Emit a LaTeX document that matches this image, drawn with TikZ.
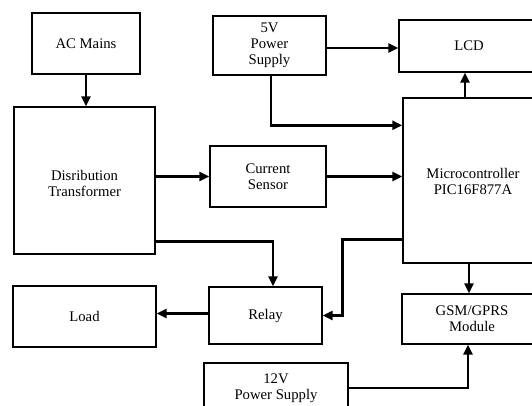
\documentclass[tikz,border=0pt]{standalone}
\usepackage{fontspec}
\setmainfont{Liberation Serif}
\usetikzlibrary{arrows.meta,calc}
\begin{document}
\begin{tikzpicture}[x=1pt,y=-1pt,
  blk/.style={draw,line width=1.4pt,inner sep=0pt,align=center,font=\fontsize{14.7}{16}\selectfont},
  conn/.style={line width=2.6pt,-{Triangle[length=10pt,width=9pt]}}]
\useasboundingbox (0,0) rectangle (532,406);
\clip (0,0) rectangle (532,406);
\node[blk,minimum width=108pt,minimum height=61pt] (ac) at (86,43.5) {AC Mains};
\node[blk,minimum width=141pt,minimum height=147pt] (dt) at (84.5,180.5) {\raisebox{-8pt}[0pt][0pt]{\begin{tabular}{@{}c@{}}Disribution\\Transformer\end{tabular}}};
\node[blk,minimum width=113pt,minimum height=59pt] (ps5) at (269.5,45.5) {5V\\Power\\Supply};
\node[blk,minimum width=140pt,minimum height=52pt] (lcd) at (469,46) {LCD};
\node[blk,minimum width=140pt,minimum height=165pt] (mc) at (473,180.5) {\raisebox{-6.5pt}[0pt][0pt]{\begin{tabular}{@{}c@{}}Microcontroller\\PIC16F877A\end{tabular}}};
\node[blk,minimum width=116pt,minimum height=61pt] (cs) at (268,176.5) {Current\\Sensor};
\node[blk,minimum width=113pt,minimum height=57pt] (relay) at (265.5,315.5) {Relay};
\node[blk,minimum width=143pt,minimum height=61pt] (load) at (84.5,316.5) {Load};
\node[blk,minimum width=140pt,minimum height=50pt] (gsm) at (472,319) {GSM/GPRS\\Module};
\node[blk,minimum width=144pt,minimum height=50pt] (ps12) at (276,388) {12V\\Power Supply};
\draw[conn] (ac.south) -- (ac.south |- dt.north);
\draw[conn] (dt.east |- cs.west) -- (cs.west);
\draw[conn] ([yshift=-2.5pt]ps5.east) -- ([yshift=-2.5pt]ps5.east -| lcd.west);
\draw[conn] ([xshift=1.5pt]ps5.south) |- ($(mc.north west)+(0,28)$);
\draw[conn] (cs.east) -- (cs.east -| mc.west);
\draw[conn] ([xshift=-4pt]lcd.south |- mc.north) -- ([xshift=-4pt]lcd.south);
\draw[conn] ($(dt.south east)+(0,-13)$) -| ([xshift=7.5pt]relay.north);
\draw[conn] ($(mc.south west)+(0,-24)$) -- ++(-60,0) |- (relay.east);
\draw[conn] ([yshift=2pt]relay.west) -- ([yshift=2pt]relay.west -| load.east);
\draw[conn] ([xshift=-3pt]gsm.north |- mc.south) -- ([xshift=-3pt]gsm.north);
\draw[conn] (ps12.east) -| ([xshift=-4pt]gsm.south);
\end{tikzpicture}
\end{document}
